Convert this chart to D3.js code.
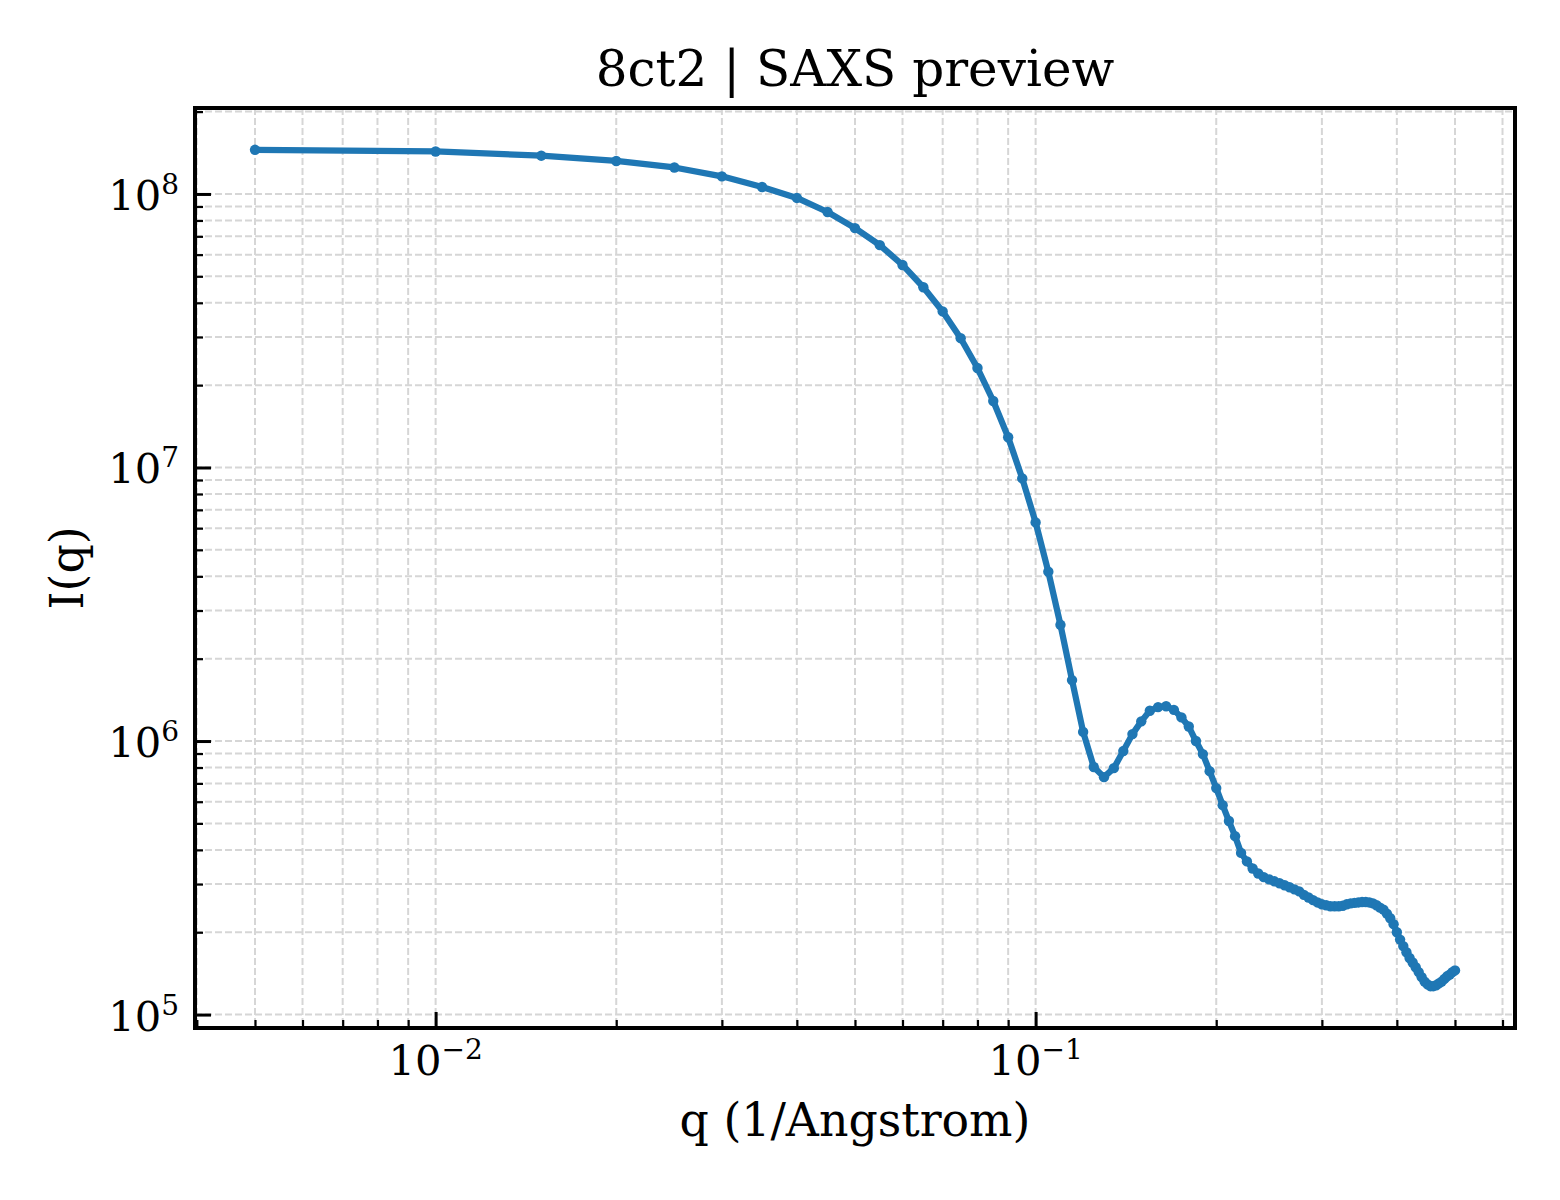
<!DOCTYPE html>
<html>
<head>
<meta charset="utf-8">
<title>8ct2 | SAXS preview</title>
<script src="https://d3js.org/d3.v7.min.js"></script>
<style>
  body { margin: 0; background: #fff; }
  text { font-family: "DejaVu Serif", serif; fill: #000; }
</style>
</head>
<body>
<script>
// scattering vector (1/Angstrom)
var q = [0.005, 0.010, 0.015, 0.020, 0.025, 0.030, 0.035, 0.040, 0.045, 0.050,
         0.055, 0.060, 0.065, 0.070, 0.075, 0.080, 0.085, 0.090, 0.095, 0.100,
         0.105, 0.110, 0.115, 0.120, 0.125, 0.130, 0.135, 0.140, 0.145, 0.150,
         0.155, 0.160, 0.165, 0.170, 0.175, 0.180, 0.185, 0.190, 0.195, 0.200,
         0.205, 0.210, 0.215, 0.220, 0.225, 0.230, 0.235, 0.240, 0.245, 0.250,
         0.255, 0.260, 0.265, 0.270, 0.275, 0.280, 0.285, 0.290, 0.295, 0.300,
         0.305, 0.310, 0.315, 0.320, 0.325, 0.330, 0.335, 0.340, 0.345, 0.350,
         0.355, 0.360, 0.365, 0.370, 0.375, 0.380, 0.385, 0.390, 0.395, 0.400,
         0.405, 0.410, 0.415, 0.420, 0.425, 0.430, 0.435, 0.440, 0.445, 0.450,
         0.455, 0.460, 0.465, 0.470, 0.475, 0.480, 0.485, 0.490, 0.495, 0.500];

// I(q)
var intensity = [1.45e8, 1.43e8, 1.38e8, 1.32e8, 1.25e8, 1.16e8, 1.06e8, 9.67e7, 8.59e7, 7.5e7,
                 6.5e7, 5.5e7, 4.56e7, 3.72e7, 2.97e7, 2.31e7, 1.75e7, 1.29e7, 9.12e6, 6.3e6,
                 4.16e6, 2.66e6, 1.67e6, 1.08e6, 8.04e5, 7.38e5, 7.96e5, 9.19e5, 1.06e6, 1.18e6,
                 1.29e6, 1.33e6, 1.34e6, 1.30e6, 1.22e6, 1.13e6, 1.0e6, 8.96e5, 7.76e5, 6.73e5,
                 5.83e5, 5.10e5, 4.49e5, 3.9e5, 3.63e5, 3.42e5, 3.28e5, 3.18e5, 3.12e5, 3.07e5,
                 3.02e5, 2.97e5, 2.92e5, 2.87e5, 2.82e5, 2.74e5, 2.68e5, 2.62e5, 2.57e5, 2.53e5,
                 2.51e5, 2.49e5, 2.49e5, 2.49e5, 2.50e5, 2.53e5, 2.55e5, 2.56e5, 2.57e5, 2.58e5,
                 2.58e5, 2.57e5, 2.55e5, 2.51e5, 2.46e5, 2.42e5, 2.34e5, 2.25e5, 2.14e5, 2.0e5,
                 1.88e5, 1.78e5, 1.69e5, 1.61e5, 1.55e5, 1.49e5, 1.43e5, 1.37e5, 1.32e5, 1.29e5,
                 1.27e5, 1.27e5, 1.28e5, 1.30e5, 1.32e5, 1.35e5, 1.38e5, 1.40e5, 1.43e5, 1.45e5];

var xTickExps = [-2, -1];
var yTickExps = [5, 6, 7, 8];

var w = 1560, h = 1200;
var pl = 195, pr = 1515, pt = 108, pb = 1028;
var blue = "#1f77b4";

var svg = d3.select("body").append("svg")
  .attr("width", w)
  .attr("height", h);

// log domains with 5% margin like matplotlib autoscale
function padded(vals) {
  var lo = Math.log10(d3.min(vals)), hi = Math.log10(d3.max(vals));
  var p = (hi - lo) * 0.05;
  return [Math.pow(10, lo - p), Math.pow(10, hi + p)];
}

var x = d3.scaleLog().domain(padded(q)).range([pl, pr]);
var y = d3.scaleLog().domain(padded(intensity)).range([pb, pt]);

function isMajor(v) {
  return Math.abs(Math.log10(v) - Math.round(Math.log10(v))) < 1e-9;
}
var xAll = x.ticks().filter(function(v){ var d = x.domain(); return v >= d[0] && v <= d[1]; });
var yAll = y.ticks().filter(function(v){ var d = y.domain(); return v >= d[0] && v <= d[1]; });
var xMinor = xAll.filter(function(v){ return !isMajor(v); });
var yMinor = yAll.filter(function(v){ return !isMajor(v); });
var xMajor = xTickExps.map(function(e){ return Math.pow(10, e); });
var yMajor = yTickExps.map(function(e){ return Math.pow(10, e); });

// grid
var grid = svg.append("g")
  .attr("stroke", "#d6d6d6")
  .attr("stroke-width", 2)
  .attr("stroke-dasharray", "7,3");
grid.selectAll("line.gx")
  .data(xAll)
  .enter()
  .append("line")
  .attr("class", "gx")
  .attr("x1", function(d){ return x(d); })
  .attr("x2", function(d){ return x(d); })
  .attr("y1", pt)
  .attr("y2", pb);
grid.selectAll("line.gy")
  .data(yAll)
  .enter()
  .append("line")
  .attr("class", "gy")
  .attr("x1", pl)
  .attr("x2", pr)
  .attr("y1", function(d){ return y(d); })
  .attr("y2", function(d){ return y(d); });

// curve
var pts = q.map(function(v, i){ return [v, intensity[i]]; });
var line = d3.line()
  .x(function(d){ return x(d[0]); })
  .y(function(d){ return y(d[1]); });

svg.append("path")
  .datum(pts)
  .attr("d", line)
  .attr("fill", "none")
  .attr("stroke", blue)
  .attr("stroke-width", 6.25)
  .attr("stroke-linejoin", "round");

svg.selectAll("circle")
  .data(pts)
  .enter()
  .append("circle")
  .attr("cx", function(d){ return x(d[0]); })
  .attr("cy", function(d){ return y(d[1]); })
  .attr("r", 5.2)
  .attr("fill", blue);

// ticks, pointing inward
function ticks(axis, vals, size, width, tx) {
  var g = svg.append("g")
    .attr("transform", tx)
    .call(axis.tickValues(vals).tickSizeInner(-size).tickSizeOuter(0).tickFormat(""));
  g.select(".domain").remove();
  g.selectAll(".tick line").attr("stroke", "#000").attr("stroke-width", width);
  return g;
}
ticks(d3.axisBottom(x), xMinor, 8, 2.2, "translate(0," + pb + ")");
ticks(d3.axisBottom(x), xMajor, 16, 3, "translate(0," + pb + ")");
ticks(d3.axisLeft(y), yMinor, 8, 2.2, "translate(" + pl + ",0)");
ticks(d3.axisLeft(y), yMajor, 16, 3, "translate(" + pl + ",0)");

// spines
svg.append("rect")
  .attr("x", pl)
  .attr("y", pt)
  .attr("width", pr - pl)
  .attr("height", pb - pt)
  .attr("fill", "none")
  .attr("stroke", "#000")
  .attr("stroke-width", 4);

// tick labels as 10^n
function powLabel(sel, exp) {
  sel.append("tspan").attr("font-size", 41.7).text("10");
  sel.append("tspan")
    .attr("font-size", 28)
    .attr("dy", -16)
    .text(exp < 0 ? "\u2212" + (-exp) : String(exp));
}

svg.selectAll("text.xl")
  .data(xTickExps)
  .enter()
  .append("text")
  .attr("class", "xl")
  .attr("x", function(d){ return x(Math.pow(10, d)); })
  .attr("y", 1075)
  .attr("text-anchor", "middle")
  .each(function(d){ powLabel(d3.select(this), d); });

svg.selectAll("text.yl")
  .data(yTickExps)
  .enter()
  .append("text")
  .attr("class", "yl")
  .attr("x", 179)
  .attr("y", function(d){ return y(Math.pow(10, d)) + 16; })
  .attr("text-anchor", "end")
  .each(function(d){ powLabel(d3.select(this), d); });

// title and axis labels
svg.append("text")
  .attr("x", (pl + pr) / 2)
  .attr("y", 86)
  .attr("text-anchor", "middle")
  .attr("font-size", 50)
  .text("8ct2 | SAXS preview");

svg.append("text")
  .attr("x", (pl + pr) / 2)
  .attr("y", 1136)
  .attr("text-anchor", "middle")
  .attr("font-size", 45.8)
  .text("q (1/Angstrom)");

svg.append("text")
  .attr("transform", "translate(83," + (pt + pb) / 2 + ") rotate(-90)")
  .attr("text-anchor", "middle")
  .attr("font-size", 45.8)
  .text("I(q)");
</script>
</body>
</html>
